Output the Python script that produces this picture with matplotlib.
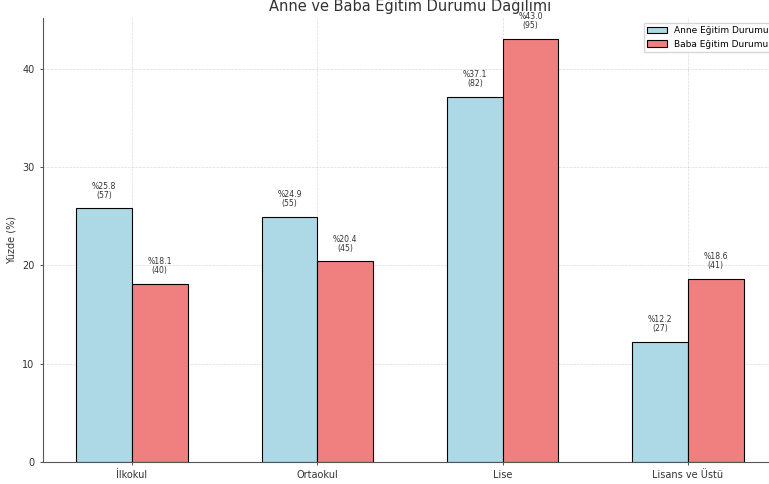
import numpy as np
import matplotlib.pyplot as plt

# DATA
categories = ["İlkokul", "Ortaokul", "Lise", "Lisans ve Üstü"]
anne_pct = [25.8, 24.9, 37.1, 12.2]
anne_n = [57, 55, 82, 27]
baba_pct = [18.1, 20.4, 43.0, 18.6]
baba_n = [40, 45, 95, 41]


def plot_chart():
    fig = plt.figure(figsize=(7.69, 4.84), dpi=100)
    # AXES RUN A LITTLE PAST THE RIGHT EDGE, LIKE THE CROPPED ORIGINAL
    ax = fig.add_axes([0.0559, 0.0455, 0.9545, 0.917])

    x = np.arange(len(categories))
    w = 0.3

    b1 = ax.bar(x - w / 2, anne_pct, w, label="Anne Eğitim Durumu",
                color="lightblue", edgecolor="black", linewidth=0.8)
    b2 = ax.bar(x + w / 2, baba_pct, w, label="Baba Eğitim Durumu",
                color="lightcoral", edgecolor="black", linewidth=0.8)

    # LABELS ABOVE EACH BAR
    for bars, pcts, ns in [(b1, anne_pct, anne_n), (b2, baba_pct, baba_n)]:
        for bar, p, n in zip(bars, pcts, ns):
            ax.text(bar.get_x() + bar.get_width() / 2, p + 0.9,
                    "%" + str(p) + "\n(" + str(n) + ")",
                    ha="center", va="bottom", fontsize=5.6,
                    color="#333333", linespacing=1.0)

    ax.set_xticks(x)
    ax.set_xticklabels(categories)
    ax.set_ylabel("Yüzde (%)", fontsize=7, color="#333333")
    ax.set_title("Anne ve Baba Eğitim Durumu Dağılımı", fontsize=10.5,
                 color="#333333", pad=5)
    ax.tick_params(labelsize=7, colors="#333333", length=2.5, width=0.6)
    for s in ["top", "right"]:
        ax.spines[s].set_visible(False)
    for s in ["left", "bottom"]:
        ax.spines[s].set_color("#555555")
        ax.spines[s].set_linewidth(0.8)
    ax.grid(True, linestyle="--", linewidth=0.5, color="#cccccc", alpha=0.7)
    ax.set_axisbelow(True)
    ax.legend(loc="upper right", fontsize=6.5, handlelength=2.2,
              framealpha=0.8, edgecolor="#cccccc")

    plt.savefig("out.png", dpi=100)


if __name__ == "__main__":
    plot_chart()
